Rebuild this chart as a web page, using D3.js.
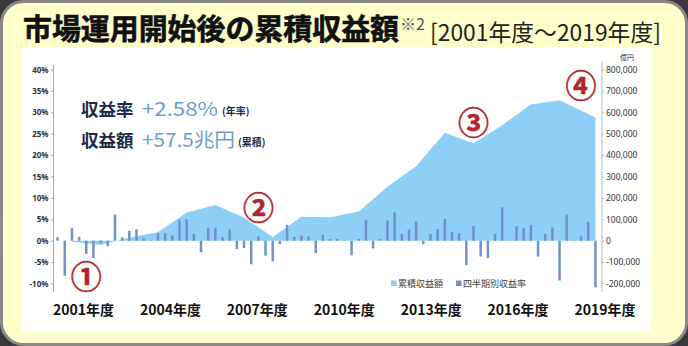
<!DOCTYPE html>
<html><head><meta charset="utf-8">
<script src="https://cdn.jsdelivr.net/npm/d3@7"></script>
<style>
html,body{margin:0;padding:0;background:#3a3a3a;}
svg{display:block;}
text{font-family:"Noto Sans CJK JP","Noto Sans",sans-serif;}
</style></head><body>
<svg id="c" width="688" height="346"></svg>
<script>
// ---- data ----
const years = ["2001","2002","2003","2004","2005","2006","2007","2008","2009","2010",
               "2011","2012","2013","2014","2015","2016","2017","2018","2019"];
const quarters = ["1Q","2Q","3Q","4Q"];
// quarterly return rate (%)
const quarterlyReturns = [
  0.8, -8.2, 3.0, 0.9, -3.1, -4.1, -0.6, -1.3, 6.1, 0.8, 2.3, 2.6, 0.6, 0.1, 1.8, 1.8, 1.2, 4.9, 5.0,
  1.6, -2.7, 3.0, 3.0, 0.8, 2.6, -2.0, -1.7, -5.5, 1.0, -3.5, -4.8, -0.8, 3.7, 0.9, 1.2, 1.0, -2.9, 1.4,
  0.4, 0.4, 0.1, -3.4, 0.4, 4.9, -1.8, 0.4, 4.7, 6.6, 1.6, 2.6, 4.5, -0.8, 1.6, 2.7, 5.1, 2.0, 1.8,
  -5.7, 3.4, -3.7, -4.0, 1.6, 7.8, 0.1, 3.4, 2.9, 3.7, -3.7, 1.6, 3.1, -9.3, 6.1, 0.1, 1.0, 4.4, -10.9
];
// cumulative return amount (億円), measured at these quarters
const cumKeys = ["2001-3Q","2002-3Q","2003-3Q","2004-3Q","2005-3Q","2006-3Q","2007-3Q","2008-3Q","2009-3Q","2010-3Q",
                 "2011-3Q","2012-3Q","2013-3Q","2014-3Q","2015-3Q","2016-3Q","2017-3Q","2018-3Q","2019-4Q"];
const cumValues = [-5000, -20000, 15000, 40000, 132000, 167000, 108000, 17000, 112000, 110000,
                   136000, 252000, 348000, 505000, 455000, 540000, 636000, 656000, 576000];
const xLabels = ["2001年度","2004年度","2007年度","2010年度","2013年度","2016年度","2019年度"];
const leftTicks = [-10,-5,0,5,10,15,20,25,30,35,40];
const rightTicks = [-200000,-100000,0,100000,200000,300000,400000,500000,600000,700000,800000];
const seriesNames = ["累積収益額","四半期別収益率"];
const rateText = "+2.58%";
const amountText = "+57.5兆円";

// ---- build ----
const qKeys = [];
years.forEach(y => quarters.forEach(q => qKeys.push(y + "-" + q)));
const bars = qKeys.map((k, i) => ({key: k, v: quarterlyReturns[i]}));
const cum = cumKeys.map((k, i) => ({key: k, v: cumValues[i]}));

const svg = d3.select("#c");
const AREA = "#8ecff8", BAR = "#7192c7", RED = "#b3232b";

// frame
svg.append("rect").attr("x",1.5).attr("y",1.5).attr("width",685).attr("height",343)
  .attr("rx",22).attr("fill","#ffffcc").attr("stroke","#8a8a8a").attr("stroke-width",3);
svg.append("rect").attr("x",22).attr("y",47).attr("width",629).attr("height",285).attr("fill","#ffffff");

// title
svg.append("text").attr("x",23).attr("y",40).attr("font-size",29).attr("font-weight",700)
  .attr("fill","#111").attr("stroke","#111").attr("stroke-width",0.6)
  .attr("textLength",376).attr("lengthAdjust","spacingAndGlyphs").text("市場運用開始後の累積収益額");
svg.append("text").attr("x",400).attr("y",30).attr("font-size",16).attr("fill","#555").text("※2");
svg.append("text").attr("x",430).attr("y",41).attr("font-size",23).attr("fill","#222")
  .attr("textLength",231).attr("lengthAdjust","spacingAndGlyphs").text("[2001年度～2019年度]");

// scales
const x = d3.scaleBand().domain(qKeys).range([54, 599]);
const cx = k => x(k) + x.bandwidth() / 2;
const yL = d3.scaleLinear().domain([-10, 40]).range([283.5, 69.5]);
const yR = d3.scaleLinear().domain([-200000, 800000]).range([283.5, 69.5]);

// area
const area = d3.area().x(d => cx(d.key)).y0(yR(0)).y1(d => yR(d.v));
svg.append("path").datum(cum).attr("d", area).attr("fill", AREA);

// bars
svg.append("g").selectAll("rect").data(bars).join("rect")
  .attr("x", d => cx(d.key) - 1.25).attr("width", 2.5)
  .attr("y", d => yL(Math.max(0, d.v)))
  .attr("height", d => Math.abs(yL(d.v) - yL(0)))
  .attr("fill", BAR);

// axes
const gl = svg.append("g").attr("transform","translate(53.5,0)")
  .call(d3.axisLeft(yL).tickValues(leftTicks).tickFormat(d => d + "%").tickSize(3).tickSizeOuter(0).tickPadding(2));
gl.select(".domain").attr("d","M0,65V292").attr("stroke","#aaa");
gl.selectAll(".tick line").attr("stroke","#aaa");
gl.selectAll(".tick text").attr("font-size",8).attr("font-weight",700).attr("fill","#333")
  .style("font-family","'Noto Sans','DejaVu Sans',sans-serif");

const fmt = d3.format(",");
const gr = svg.append("g").attr("transform","translate(602,0)")
  .call(d3.axisRight(yR).tickValues(rightTicks).tickFormat(d => fmt(d).replace("−","-")).tickSize(2).tickSizeOuter(0).tickPadding(2));
gr.select(".domain").attr("d","M0,62V292").attr("stroke","#bbb");
gr.selectAll(".tick line").attr("stroke","#bbb");
gr.selectAll(".tick text").attr("font-size",8.5).attr("fill","#333")
  .style("font-family","'Noto Sans','DejaVu Sans',sans-serif");
svg.append("text").attr("x",627).attr("y",60).attr("text-anchor","middle").attr("font-size",7)
  .attr("fill","#333").text("億円");

// x labels
const xl = d3.scalePoint().domain(xLabels).range([83.5, 605]);
svg.append("g").selectAll("text").data(xLabels).join("text")
  .attr("x", d => xl(d)).attr("y", 315).attr("text-anchor","middle")
  .attr("font-size",14).attr("font-weight",700).attr("fill","#111").text(d => d);

// legend
const leg = svg.append("g");
leg.append("rect").attr("x",391).attr("y",280.5).attr("width",5.5).attr("height",5.5).attr("fill",AREA);
leg.append("text").attr("x",398).attr("y",287).attr("font-size",9).attr("fill","#444").text(seriesNames[0]);
leg.append("rect").attr("x",456).attr("y",280.5).attr("width",5.5).attr("height",5.5).attr("fill",BAR);
leg.append("text").attr("x",463).attr("y",287).attr("font-size",9).attr("fill","#444").text(seriesNames[1]);

// summary text
const NAVY = "#1c2a48", LB = "#6f9bd2";
svg.append("text").attr("x",81).attr("y",116).attr("font-size",17.5).attr("font-weight",700).attr("fill",NAVY).text("収益率");
svg.append("text").attr("x",142).attr("y",116).attr("font-size",19).attr("fill",LB)
  .attr("textLength",76).attr("lengthAdjust","spacingAndGlyphs").text(rateText);
svg.append("text").attr("x",222).attr("y",115).attr("font-size",10).attr("font-weight",700).attr("fill",NAVY).text("(年率)");
svg.append("text").attr("x",81).attr("y",147).attr("font-size",17.5).attr("font-weight",700).attr("fill",NAVY).text("収益額");
svg.append("text").attr("x",142).attr("y",147).attr("font-size",19).attr("fill",LB)
  .attr("textLength",93).attr("lengthAdjust","spacingAndGlyphs").text(amountText);
svg.append("text").attr("x",238).attr("y",146).attr("font-size",10).attr("font-weight",700).attr("fill",NAVY).text("(累積)");

// event markers
const marks = [
  {t:"①", k:"2002-1Q", v:-7.8},
  {t:"②", k:"2008-1Q", v:8.3},
  {t:"③", k:"2015-3Q", v:28.0},
  {t:"④", k:"2019-2Q", v:36.8}
];
svg.append("g").selectAll("text").data(marks).join("text")
  .attr("x", d => cx(d.k)).attr("y", d => yL(d.v)).attr("text-anchor","middle")
  .attr("dominant-baseline","central").attr("font-size",31).attr("font-weight",700)
  .attr("fill",RED).attr("stroke",RED).attr("stroke-width",0.5).text(d => d.t);
</script>
</body></html>
